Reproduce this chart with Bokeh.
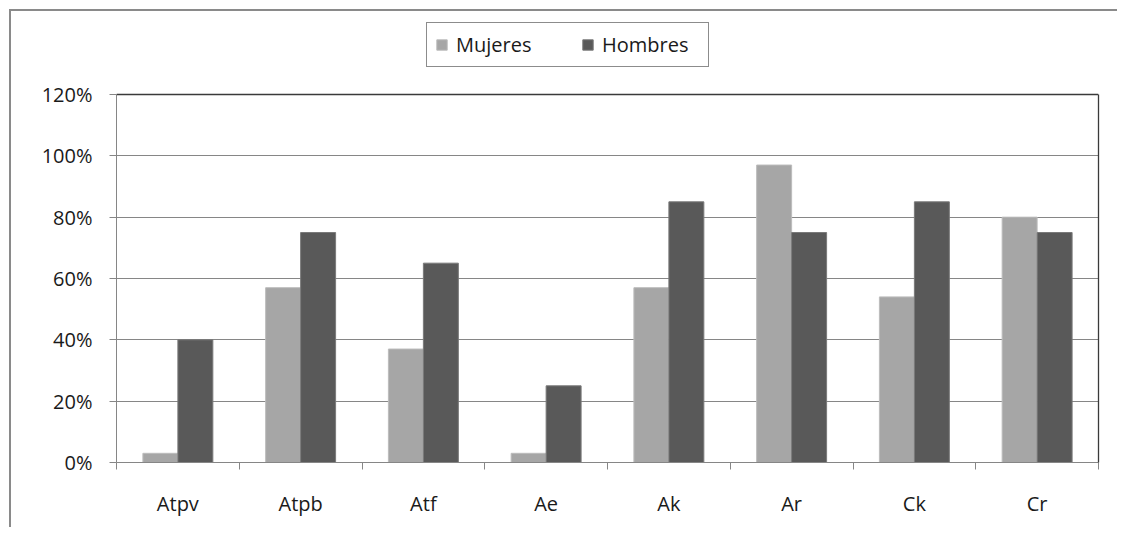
import numpy as np
from bokeh.plotting import figure
from bokeh.models import (ColumnDataSource, Range1d, FixedTicker, NumeralTickFormatter,
                          Legend, LegendItem, LinearAxis, Span)
from bokeh.transform import dodge
from bokeh.embed import file_html
from bokeh.resources import INLINE

categories = ["Atpv", "Atpb", "Atf", "Ae", "Ak", "Ar", "Ck", "Cr"]
mujeres = [0.03, 0.57, 0.37, 0.03, 0.57, 0.97, 0.54, 0.80]
hombres = [0.40, 0.75, 0.65, 0.25, 0.85, 0.75, 0.85, 0.75]
y_ticks = [0, 0.2, 0.4, 0.6, 0.8, 1.0, 1.2]
y_max = 1.2

FONT = "Open Sans"
TXT = "#1a1a1a"
AX = "#868686"
DARK = "#3a3a3a"

# layout: frame extends above the 120% line so the legend can sit inside it
H, MB_TOP, MB_BOT = 518, 5, 67
frame_px = H - MB_TOP - MB_BOT
plot_px = 368
y_end = y_max * frame_px / plot_px

xs = np.arange(len(categories)) + 0.5
src = ColumnDataSource(dict(x=xs, cat=categories, m=mujeres, h=hombres))

p = figure(width=1108, height=H, output_backend="svg", toolbar_location=None,
           x_range=Range1d(0, len(categories)), y_range=Range1d(0, y_end),
           min_border_left=105, min_border_right=21, min_border_top=MB_TOP,
           min_border_bottom=MB_BOT)
p.styles = {"margin-left": "9px", "margin-top": "9px",
            "border-top": "2px solid #8a8a8a", "border-left": "2px solid #8a8a8a"}
p.outline_line_color = None
p.background_fill_color = "white"

bw = 0.285
rm = p.vbar(x=dodge("x", -bw / 2), top="m", width=bw, source=src,
            fill_color="#a6a6a6", line_color="#bcbcbc", line_width=1)
rh = p.vbar(x=dodge("x", bw / 2), top="h", width=bw, source=src,
            fill_color="#595959", line_color="#7a7a7a", line_width=1)

# grid
p.xgrid.visible = False
p.ygrid.ticker = FixedTicker(ticks=y_ticks[:-1])
p.ygrid.grid_line_color = AX
p.ygrid.grid_line_width = 1
p.add_layout(Span(location=y_max, dimension="width", line_color=DARK, line_width=1.3))

# y axis
ya = p.yaxis[0]
ya.ticker = FixedTicker(ticks=y_ticks)
ya.bounds = (0, y_max)
ya.formatter = NumeralTickFormatter(format="0%")
ya.axis_line_color = AX
ya.major_tick_line_color = AX
ya.major_tick_out = 7
ya.major_tick_in = 0
ya.minor_tick_line_color = None
ya.major_label_standoff = 17
ya.major_label_text_font = FONT
ya.major_label_text_font_size = "20px"
ya.major_label_text_color = TXT

# x axis: labels at centers, ticks at boundaries
xa = p.xaxis[0]
xa.ticker = FixedTicker(ticks=list(xs), minor_ticks=list(range(len(categories) + 1)))
xa.major_label_overrides = {float(v): c for v, c in zip(xs, categories)}
xa.axis_line_color = AX
xa.major_tick_line_color = None
xa.major_tick_out = 0
xa.major_tick_in = 0
xa.minor_tick_line_color = AX
xa.minor_tick_out = 7
xa.minor_tick_in = 0
xa.major_label_standoff = 20
xa.major_label_text_font = FONT
xa.major_label_text_font_size = "20px"
xa.major_label_text_color = TXT

# dark right edge of plot area
right_ax = LinearAxis(major_tick_line_color=None, minor_tick_line_color=None,
                      major_label_text_font_size="0px", axis_line_color=DARK,
                      axis_line_width=1.3, major_label_standoff=0, major_tick_out=0,
                      bounds=(0, y_max))
right_ax.ticker = FixedTicker(ticks=[])
p.add_layout(right_ax, "right")

legend = Legend(items=[LegendItem(label="Mujeres", renderers=[rm]),
                       LegendItem(label="Hombres", renderers=[rh])],
                orientation="horizontal", location=(310, 395),
                border_line_color="#1a1a1a", border_line_width=1,
                background_fill_color="white", background_fill_alpha=1,
                glyph_width=13, glyph_height=13, label_standoff=8, spacing=27,
                padding=8, margin=0, label_width=98, label_height=20,
                label_text_font=FONT, label_text_font_size="20px", label_text_color=TXT)
p.add_layout(legend, "center")

open("out.html", "w").write(file_html(p, INLINE))
